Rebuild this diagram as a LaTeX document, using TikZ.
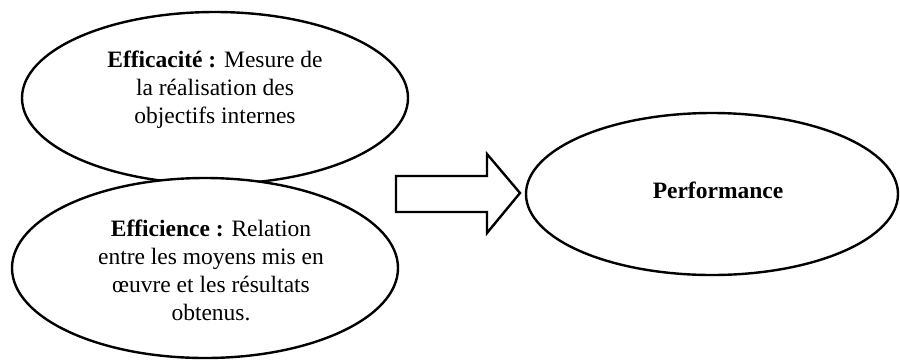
\documentclass[tikz,border=0pt]{standalone}
\usepackage{fontspec}
\setmainfont{Liberation Serif}
\usetikzlibrary{shapes.geometric}
\begin{document}
\begin{tikzpicture}[x=1pt,y=-1pt,
  oval/.style={ellipse,draw=black,line width=2.4pt,fill=white,inner sep=0pt},
  txt/.style={align=center,font=\fontsize{23.5}{28}\selectfont,inner sep=0pt},
  blockarrow/.style={draw=black,line width=2.4pt,fill=white,line join=miter}]
\useasboundingbox (0,0) rectangle (900,360);
\node[oval,minimum width=386pt,minimum height=172pt] (e1) at (215,98) {};
\node[txt] (t1) at (215,90) {\textbf{Efficacité :} Mesure de\\la réalisation des\\objectifs internes};
\node[oval,minimum width=386pt,minimum height=180pt] (e2) at (205,268) {};
\node[txt] (t2) at (211,270) {\textbf{Efficience :} Relation\\entre les moyens mis en\\œuvre et les résultats\\obtenus.};
\node[oval,minimum width=372pt,minimum height=162pt] (e3) at (712,194) {};
\node[txt] (t3) at (718,190) {\textbf{Performance}};
\draw[blockarrow] (396,176) -- (487,176) -- (487,154) -- (520,193) -- (487,233) -- (487,212) -- (396,212) -- cycle;
\end{tikzpicture}
\end{document}
